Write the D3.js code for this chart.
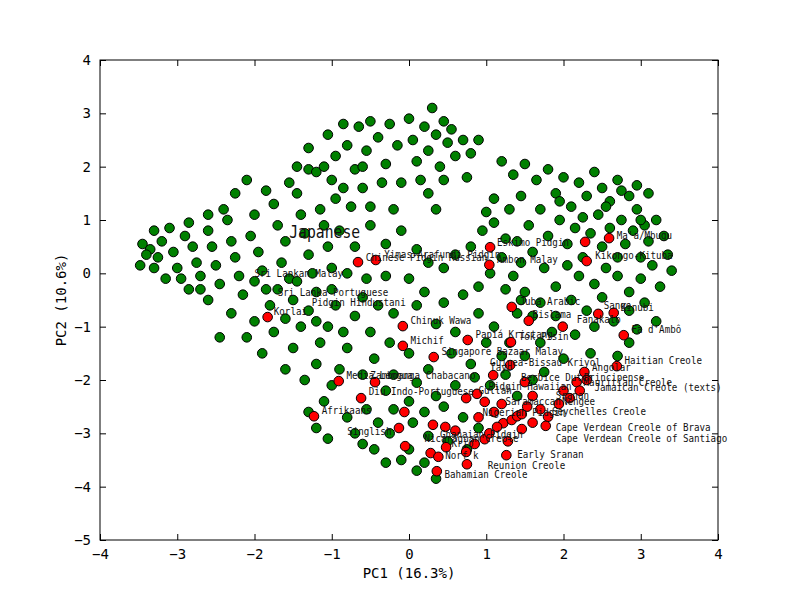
<!DOCTYPE html>
<html><head><meta charset="utf-8">
<script src="https://cdn.jsdelivr.net/npm/d3@7"></script>
<style>body{margin:0;background:#fff}text{font-family:"DejaVu Sans Mono",monospace}</style>
</head><body><svg id="c" width="800" height="600"></svg>
<script>
const xTicks=[-4,-3,-2,-1,0,1,2,3,4];
const yTicks=[-5,-4,-3,-2,-1,0,1,2,3,4];
const greenPts=[
[-3.45,0.55],[-3.48,0.15],[-3.3,0.1],[-3.35,0.45],[-3.2,0.6],[-3.25,0.3],[-3.1,0.85],[-3.05,0.4],[-3.0,0.1],[-2.95,-0.1],[-3.15,-0.1],[-2.9,0.7],[-2.85,0.95],[-2.8,0.5],[-2.75,0.2],[-2.7,-0.05],[-2.85,-0.3],[-2.6,0.8],[-2.55,0.5],[-2.5,0.15],[-2.45,-0.2],[-2.6,-0.5],[-2.35,1.0],[-2.3,0.6],[-2.25,0.3],[-2.2,-0.05],[-2.15,-0.4],[-2.3,-0.75],[-2.45,-1.2],[-2.0,1.1],[-2.05,0.7],[-1.95,0.4],[-1.9,0.05],[-1.85,-0.3],[-1.8,-0.6],[-2.0,-0.9],[-2.1,-1.2],[-1.75,1.3],[-1.7,0.9],[-1.6,0.6],[-1.65,0.2],[-1.55,-0.1],[-1.5,-0.5],[-1.6,-0.85],[-1.75,-1.1],[-1.9,-1.5],[-1.45,1.5],[-1.4,1.1],[-1.35,0.75],[-1.3,0.35],[-1.25,0.0],[-1.2,-0.35],[-1.3,-0.7],[-1.4,-1.0],[-1.5,-1.4],[-1.6,-1.8],[-1.15,1.2],[-1.1,0.9],[-1.05,0.5],[-1.0,0.1],[-1.0,-0.3],[-0.95,-0.6],[-1.05,-1.0],[-1.15,-1.3],[-1.2,-1.7],[-1.35,-2.0],[-2.1,1.75],[-2.25,1.5],[-1.85,1.55],[-1.55,1.7],[-1.3,1.95],[-1.0,1.75],[-0.95,1.4],[-2.4,1.2],[-2.6,1.1],[-2.7,-0.3],[-3.3,0.8],[-3.4,0.35],[-2.0,-0.15],[-1.7,-0.3],[-1.45,-0.15],[-1.2,-0.9],[-0.85,-1.1],[-0.8,-1.4],[-0.9,-1.8],[-1.0,-2.1],[-1.1,-2.4],[-1.3,-2.6],[-1.2,-2.9],[-1.05,-3.1],[-0.8,-2.7],[-0.7,-3.0],[-0.6,-3.2],[-0.55,-2.55],[-0.4,-2.8],[-0.45,-3.3],[-0.3,-3.55],
[-1.45,2.0],[-1.3,2.35],[-1.2,1.9],[-1.05,2.6],[-0.95,2.2],[-0.85,2.8],[-0.8,2.4],[-0.7,1.95],[-0.65,2.75],[-0.55,2.3],[-0.5,2.85],[-0.4,2.55],[-0.3,2.05],[-0.25,2.8],[-0.15,2.4],[-0.1,1.7],[0.0,2.9],[0.05,2.5],[0.1,2.1],[0.2,2.75],[0.25,2.3],[0.3,3.1],[0.35,2.6],[0.4,2.0],[0.45,2.85],[0.5,2.45],[0.55,2.7],[0.6,2.2],[0.7,2.5],[0.75,1.8],[0.8,2.25],[0.9,2.5],[-0.6,1.6],[-0.35,1.7],[0.15,1.75],[0.45,1.75],[-0.75,1.25],[-0.5,1.25],[0.25,1.5],[0.35,1.2],[-0.2,1.2],[-0.6,2.0],[-0.85,1.6],[-1.1,2.0],
[-0.9,0.8],[-0.7,0.5],[-0.5,0.9],[-0.3,0.55],[-0.1,0.8],[0.1,0.45],[0.25,0.2],[0.45,0.1],[0.6,0.35],[0.8,0.5],[0.95,0.8],[1.1,0.95],[-0.8,0.0],[-0.55,-0.1],[-0.3,-0.05],[0.0,-0.1],[0.2,-0.35],[0.45,-0.55],[0.7,-0.4],[0.9,-0.25],[1.05,0.0],[1.25,-0.3],[-0.6,-0.45],[-0.4,-0.6],[-0.2,-0.75],[0.1,-0.6],[0.35,-0.95],[0.6,-1.1],[0.9,-0.75],[1.1,-1.0],[1.45,-0.5],[-0.7,-0.8],[-0.5,-1.1],[-0.25,-1.3],[0.0,-1.5],[0.25,-1.8],[0.55,-1.5],[0.8,-1.7],[1.0,-1.3],[1.2,-1.55],[-0.45,-1.6],[-0.2,-1.9],[0.1,-2.05],[0.35,-2.3],[0.6,-2.1],[0.85,-1.95],[1.05,-2.1],[1.25,-1.9],[1.4,-2.3],[1.6,-2.0],[-0.6,-1.9],[-0.3,-2.2],[0.0,-2.4],[0.2,-2.6],[0.45,-2.5],[0.7,-2.7],[0.9,-2.9],[-0.2,-2.55],[0.05,-2.8],[0.25,-3.05],[0.5,-3.15],[0.75,-3.3],[-0.25,-3.0],[0.0,-3.3],[0.2,-3.55],[0.35,-3.85],[0.1,-3.7],[-0.1,-3.5],
[1.2,2.1],[1.35,1.85],[1.5,2.05],[1.65,1.75],[1.8,1.95],[1.9,1.5],[2.0,1.8],[2.1,1.25],[2.2,1.7],[2.3,1.45],[2.4,1.9],[2.45,1.1],[2.5,1.6],[2.6,1.35],[2.7,1.75],[2.75,1.0],[2.85,1.45],[2.9,0.8],[2.95,1.2],[3.05,0.9],[3.1,0.6],[3.2,1.0],[3.3,0.7],[3.35,0.35],[3.4,0.05],[1.3,1.2],[1.45,1.45],[1.55,0.9],[1.7,1.2],[1.8,0.7],[1.95,1.0],[2.05,0.55],[2.15,0.85],[2.25,0.3],[2.35,0.75],[2.5,0.5],[2.6,0.85],[2.7,0.3],[2.8,0.55],[3.0,0.3],[3.15,0.15],[3.25,-0.25],[3.0,-0.1],[2.85,-0.35],[2.7,-0.05],[2.55,0.1],[2.4,-0.2],[2.2,-0.05],[2.05,0.15],[1.9,-0.25],[1.75,0.1],[1.6,0.4],[1.45,0.2],[1.35,-0.05],[1.2,0.3],[1.5,-0.35],[1.7,-0.55],[1.9,-0.8],[2.1,-0.5],[2.3,-0.7],[2.5,-0.45],[2.65,-0.9],[2.85,-0.7],[3.05,-0.55],[3.2,-0.9],[2.95,-1.05],[2.4,-1.0],[2.15,-1.15],[1.85,-1.1],[1.6,-0.8],[1.4,-0.75],[3.1,1.5],[2.95,1.65],[1.1,1.4],[1.0,1.15],[2.55,1.25],[2.25,1.05],[1.95,1.35],[1.4,0.6],[1.25,0.65],[2.75,1.55],[3.0,1.0],[2.35,-1.5],[2.0,-1.6],[1.7,-1.3],[1.5,-1.55],[1.3,-1.3],[1.75,-1.85],[2.7,-1.55],[2.85,-1.3]
];
const redPts=[[-0.66,0.21],[-0.43,0.25],[1.05,0.49],[1.04,0.16],[2.59,0.66],[2.28,0.59],[2.30,0.23],[-1.83,-0.82],[1.33,-0.63],[1.55,-0.89],[1.99,-1.0],[2.45,-0.76],[2.65,-0.74],[2.78,-1.16],[-0.08,-0.99],[-0.08,-1.36],[0.76,-1.25],[1.32,-1.29],[0.32,-1.57],[1.31,-1.72],[2.69,-1.74],[2.27,-1.85],[2.17,-2.04],[2.21,-2.2],[2.0,-2.2],[2.08,-2.34],[1.94,-2.45],[1.5,-2.04],[-0.91,-2.02],[-0.44,-2.04],[-0.62,-2.34],[-1.23,-2.68],[-0.06,-2.6],[-0.13,-2.9],[-0.05,-3.24],[0.28,-3.37],[0.38,-3.44],[0.36,-3.71],[0.75,-3.58],[0.47,-2.88],[1.09,-1.91],[0.31,-2.84],[0.48,-3.26],[0.74,-3.35],[1.26,-3.41],[0.74,-2.34],[0.88,-2.26],[0.98,-2.41],[1.22,-2.81],[1.33,-2.75],[1.40,-2.68],[1.46,-2.64],[1.53,-2.5],[1.8,-2.69],[1.77,-2.86],[1.46,-2.92],[1.14,-2.88],[0.98,-3.11],[1.28,-3.15],[1.04,-3.0],[1.6,-2.3],[1.7,-2.55],[1.1,-2.6],[0.9,-2.7],[1.2,-2.45],[0.6,-2.95],[0.85,-3.2],[1.6,-2.8],[2.3,-2.0]];
const labels=["Japanese","Sri Lankan Malay","Sri Lanka Portuguese","Pidgin Hindustani","Korlai","Chinese Pidgin Russian","Yimas-Arafundi Pidgin","Eskimo Pidgin","Ambon Malay","Ma'a/Mbugu","Kikongo-Kituba","Juba Arabic","Bislama","Fanakalo","Sango","Kinubi","Fa d'Ambô","Chinuk Wawa","Michif","Papiá Kristang","Tok Pisin","Singapore Bazaar Malay","Guinea-Bissau Kriyol","Haitian Creole","Angolar","Tayo","Berbice Dutch","Principense","Mauritian Creole","Jamaican Creole (texts)","Media Lengua","Zamboanga Chabacano","Diu Indo-Portuguese","Afrikaans","Pidgin Hawaiian","Sranan","Nengee","Seychelles Creole","Cape Verdean Creole of Brava","Cape Verdean Creole of Santiago","Early Sranan","Reunion Creole","Bahamian Creole","Norf'k","Singlish","Gullah","Krio","Nigerian Pidgin","Saramaccan","Ghanaian Pidgin","Nicaraguan Creole"];
const labelPos=[[-1.55,0.76],[-2.0,-0.0],[-1.7,-0.37],[-1.26,-0.56],[-1.75,-0.72],[-0.56,0.3],[-0.32,0.35],[1.14,0.58],[1.14,0.26],[2.69,0.7],[2.41,0.33],[1.43,-0.53],[1.6,-0.78],[2.17,-0.88],[2.52,-0.6],[2.74,-0.64],[2.88,-1.06],[0.02,-0.89],[0.02,-1.26],[0.86,-1.15],[1.42,-1.19],[0.42,-1.47],[1.05,-1.67],[2.79,-1.64],[2.37,-1.77],[1.05,-1.77],[1.45,-1.95],[2.26,-1.95],[2.26,-2.05],[2.4,-2.15],[-0.81,-1.92],[-0.5,-1.92],[-0.52,-2.22],[-1.13,-2.58],[1.03,-2.12],[1.9,-2.3],[1.98,-2.4],[1.85,-2.6],[1.9,-2.89],[1.9,-3.11],[1.4,-3.4],[1.02,-3.6],[0.46,-3.78],[0.47,-3.42],[-0.8,-2.98],[0.9,-2.2],[0.55,-3.2],[0.95,-2.62],[1.25,-2.4],[0.4,-3.02],[0.2,-3.1]];

const svg=d3.select("#c");
const x=d3.scaleLinear().domain([-4,4]).range([100,718]);
const y=d3.scaleLinear().domain([-5,4]).range([540,60]);
const g=svg.append("g");
g.selectAll("circle.g").data(greenPts).join("circle").attr("cx",d=>x(d[0])).attr("cy",d=>y(d[1])).attr("r",4.8).attr("fill","#008000").attr("stroke","#000").attr("stroke-width",1);
g.selectAll("circle.r").data(redPts).join("circle").attr("cx",d=>x(d[0])).attr("cy",d=>y(d[1])).attr("r",4.8).attr("fill","#ff0000").attr("stroke","#000").attr("stroke-width",1);
g.selectAll("text.l").data(labels).join("text").attr("x",(d,i)=>x(labelPos[i][0])).attr("y",(d,i)=>y(labelPos[i][1])).attr("font-size",d=>d==="Japanese"?16:10).attr("transform-origin",(d,i)=>x(labelPos[i][0])+"px "+y(labelPos[i][1])+"px").attr("transform","scale(0.92,1.08)").attr("fill","#111").attr("dominant-baseline","middle").text(d=>d);
svg.append("rect").attr("x",100).attr("y",60).attr("width",618).attr("height",480).attr("fill","none").attr("stroke","#000");
const ax=d3.axisBottom(x).tickValues(xTicks).tickSize(-6).tickPadding(9).tickFormat(d3.format("d"));
const axT=d3.axisTop(x).tickValues(xTicks).tickSize(-6).tickFormat("");
const ay=d3.axisLeft(y).tickValues(yTicks).tickSize(-6).tickPadding(9).tickFormat(d3.format("d"));
const ayR=d3.axisRight(y).tickValues(yTicks).tickSize(-6).tickFormat("");
[[ax,"translate(0,540)"],[axT,"translate(0,60)"],[ay,"translate(100,0)"],[ayR,"translate(718,0)"]].forEach(([a,t])=>{
 const gg=svg.append("g").attr("transform",t).call(a);
 gg.select(".domain").remove();
 gg.selectAll("text").attr("font-size",14).attr("fill","#000").style("font-family","DejaVu Sans Mono");
});
svg.append("text").attr("x",409).attr("y",578).attr("text-anchor","middle").attr("font-size",14).text("PC1 (16.3%)");
svg.append("text").attr("transform","translate(66,300) rotate(-90)").attr("text-anchor","middle").attr("font-size",14).text("PC2 (10.6%)");
</script></body></html>
